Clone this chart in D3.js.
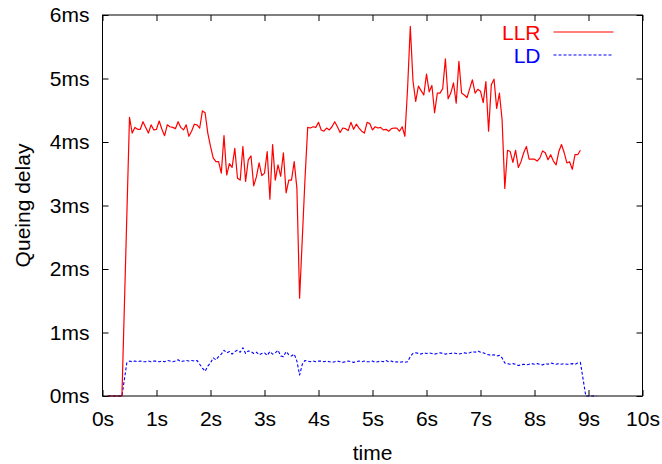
<!DOCTYPE html>
<html>
<head>
<meta charset="utf-8">
<script src="https://cdn.jsdelivr.net/npm/d3@7"></script>
<style>
  body { margin: 0; background: #fff; }
  svg text { font-family: "Liberation Sans", Arial, sans-serif; }
</style>
</head>
<body>
<div class="chart"></div>
<script>
// Queueing delay over time, two schemes (values in ms, sampled every 50ms)
const xTicks = [0, 1, 2, 3, 4, 5, 6, 7, 8, 9, 10];
const yTicks = [0, 1, 2, 3, 4, 5, 6];
const seriesNames = ['LLR', 'LD'];
const step = 0.05;

// LLR: idle at 0 before the flow starts, then one sample per step from 0.5s
const llrHead = [[0.1, 0], [0.36, 0]];
const llrStart = 0.5;
const llrDelay = [
  4.39, 4.14, 4.23, 4.20, 4.20, 4.32, 4.23, 4.14, 4.27, 4.19,
  4.20, 4.33, 4.20, 4.10, 4.27, 4.24, 4.23, 4.21, 4.32, 4.23,
  4.19, 4.27, 4.09, 4.17, 4.28, 4.27, 4.22, 4.49, 4.46, 4.14,
  3.93, 3.75, 3.69, 3.69, 3.51, 4.10, 3.48, 3.66, 3.60, 3.90,
  3.43, 3.40, 3.93, 3.38, 3.72, 3.78, 3.31, 3.45, 3.67, 3.47,
  3.51, 3.85, 3.10, 3.96, 3.40, 3.64, 3.46, 3.83, 3.20, 3.40,
  3.40, 3.69, 3.27, 1.54, 2.48, 3.42, 4.23, 4.22, 4.24, 4.23,
  4.31, 4.19, 4.17, 4.22, 4.19, 4.24, 4.32, 4.24, 4.15, 4.22,
  4.21, 4.18, 4.31, 4.20, 4.28, 4.22, 4.17, 4.14, 4.31, 4.29,
  4.19, 4.24, 4.22, 4.23, 4.19, 4.20, 4.17, 4.21, 4.22, 4.22,
  4.17, 4.24, 4.09, 4.85, 5.82, 4.96, 4.64, 4.88, 4.81, 4.74,
  5.07, 4.79, 4.89, 4.46, 4.77, 4.77, 4.84, 5.31, 4.68, 4.77,
  4.93, 4.61, 5.27, 4.77, 4.74, 4.70, 4.84, 4.98, 4.77, 4.83,
  4.80, 4.62, 4.95, 4.17, 4.90, 4.99, 4.53, 4.77, 4.35, 3.27,
  3.87, 3.85, 3.68, 3.87, 3.60, 3.69, 3.83, 3.93, 3.73, 3.73,
  3.73, 3.70, 3.75, 3.86, 3.83, 3.72, 3.80, 3.70, 3.64, 3.85,
  3.96, 3.83, 3.67, 3.69, 3.57, 3.80, 3.80, 3.87
];

// LD: one sample per step from 0.45s, then drops back to 0 after 9s
const ldHead = [[0.1, 0], [0.36, 0]];
const ldStart = 0.45;
const ldDelay = [
  0.52, 0.55, 0.54, 0.55, 0.54, 0.55, 0.54, 0.54, 0.55, 0.54,
  0.55, 0.55, 0.54, 0.55, 0.54, 0.56, 0.55, 0.54, 0.55, 0.57,
  0.54, 0.55, 0.56, 0.55, 0.56, 0.55, 0.56,
  0.50, 0.44, 0.39, 0.47, 0.52, 0.60, 0.57, 0.62, 0.66, 0.72,
  0.68, 0.70, 0.66, 0.70, 0.72, 0.69, 0.76, 0.67, 0.71, 0.70,
  0.67, 0.69, 0.65, 0.67, 0.68, 0.64, 0.70, 0.66, 0.68, 0.72,
  0.63, 0.62, 0.70, 0.65, 0.63, 0.66, 0.55, 0.33, 0.50, 0.56,
  0.55,
  0.54, 0.55, 0.54, 0.55, 0.55, 0.54, 0.55, 0.54, 0.53, 0.54,
  0.55, 0.54, 0.53, 0.54, 0.55, 0.54, 0.53, 0.54, 0.55, 0.54,
  0.55, 0.54, 0.54, 0.55, 0.53, 0.54, 0.55, 0.54, 0.56, 0.54,
  0.55, 0.53, 0.54, 0.53, 0.54, 0.53, 0.54,
  0.62, 0.67, 0.68, 0.67, 0.66, 0.68, 0.67, 0.68, 0.67, 0.66,
  0.67, 0.68, 0.67, 0.66, 0.67, 0.67, 0.68, 0.67, 0.66, 0.67,
  0.68, 0.67, 0.68, 0.70, 0.69, 0.71, 0.69, 0.68,
  0.66, 0.65, 0.64, 0.65, 0.63, 0.64, 0.60, 0.52,
  0.51, 0.50, 0.51, 0.50, 0.48, 0.49, 0.50, 0.49, 0.50, 0.51,
  0.50, 0.51, 0.50, 0.49, 0.51, 0.50, 0.52, 0.51, 0.50, 0.51,
  0.50, 0.51, 0.50, 0.50, 0.51, 0.50, 0.52, 0.53
];
const ldTail = [[8.95, 0], [9.15, 0]];

const width = 662;
const height = 464;
const margin = { top: 15, right: 19.5, bottom: 68, left: 102.5 };
const innerW = width - margin.left - margin.right;
const innerH = height - margin.top - margin.bottom;

const x = d3.scaleLinear().domain([0, 10]).range([0, innerW]);
const y = d3.scaleLinear().domain([0, 6]).range([innerH, 0]);

function toPoints(head, start, values, tail) {
    const pts = head.slice();
    values.forEach((v, i) => pts.push([start + i * step, v]));
    return pts.concat(tail || []);
}

const series = [
    { name: 'LLR', color: '#ff0000', dash: null, width: 1.2,
      points: toPoints(llrHead, llrStart, llrDelay) },
    { name: 'LD', color: '#0000ff', dash: '3,2', width: 1.1,
      points: toPoints(ldHead, ldStart, ldDelay, ldTail) }
];

const svg = d3.select('.chart')
    .append('svg')
    .attr('width', width)
    .attr('height', height);

const g = svg.append('g')
    .attr('transform', `translate(${margin.left}, ${margin.top})`);

// axes with inward ticks, mirrored on top and right
const fontSize = 21;
function styleAxis(sel) {
    sel.select('.domain').remove();
    sel.selectAll('.tick line').attr('stroke', '#000').attr('stroke-width', 1);
    sel.selectAll('.tick text')
        .attr('fill', '#000')
        .style('font-size', fontSize + 'px');
}

g.append('g')
    .attr('transform', `translate(0, ${innerH})`)
    .call(d3.axisBottom(x).tickValues(xTicks).tickFormat(d => d + 's')
        .tickSizeInner(-6).tickSizeOuter(0).tickPadding(15))
    .call(styleAxis);

g.append('g')
    .call(d3.axisTop(x).tickValues(xTicks).tickFormat('')
        .tickSizeInner(-6).tickSizeOuter(0))
    .call(styleAxis);

g.append('g')
    .call(d3.axisLeft(y).tickValues(yTicks).tickFormat(d => d + 'ms')
        .tickSizeInner(-6).tickSizeOuter(0).tickPadding(13))
    .call(styleAxis);

g.append('g')
    .attr('transform', `translate(${innerW}, 0)`)
    .call(d3.axisRight(y).tickValues(yTicks).tickFormat('')
        .tickSizeInner(-6).tickSizeOuter(0))
    .call(styleAxis);

// lines
const line = d3.line()
    .x(d => x(d[0]))
    .y(d => y(d[1]));

// draw LD first so LLR sits on top
series.slice().reverse().forEach(s => {
    g.append('path')
        .datum(s.points)
        .attr('fill', 'none')
        .attr('stroke', s.color)
        .attr('stroke-width', s.width)
        .attr('stroke-dasharray', s.dash)
        .attr('stroke-linejoin', 'round')
        .attr('d', line);
});

// frame
g.append('rect')
    .attr('width', innerW)
    .attr('height', innerH)
    .attr('fill', 'none')
    .attr('stroke', '#000')
    .attr('stroke-width', 1);

// legend (top right, inside the frame)
const legend = g.append('g')
    .attr('transform', `translate(${innerW - 102}, 17)`);

series.forEach((s, i) => {
    const row = legend.append('g').attr('transform', `translate(0, ${i * 23})`);
    row.append('text')
        .attr('x', 0)
        .attr('y', 0)
        .attr('dy', '0.36em')
        .attr('text-anchor', 'end')
        .attr('fill', s.color)
        .style('font-size', fontSize + 'px')
        .text(s.name);
    row.append('line')
        .attr('x1', 13)
        .attr('x2', 73)
        .attr('stroke', s.color)
        .attr('stroke-width', s.width)
        .attr('stroke-dasharray', s.dash);
});

// axis titles
svg.append('text')
    .attr('x', margin.left + innerW / 2)
    .attr('y', 460)
    .attr('text-anchor', 'middle')
    .style('font-size', fontSize + 'px')
    .text('time');

svg.append('text')
    .attr('transform', `translate(30, ${margin.top + innerH / 2}) rotate(-90)`)
    .attr('text-anchor', 'middle')
    .style('font-size', fontSize + 'px')
    .text('Queing delay');
</script>
</body>
</html>
